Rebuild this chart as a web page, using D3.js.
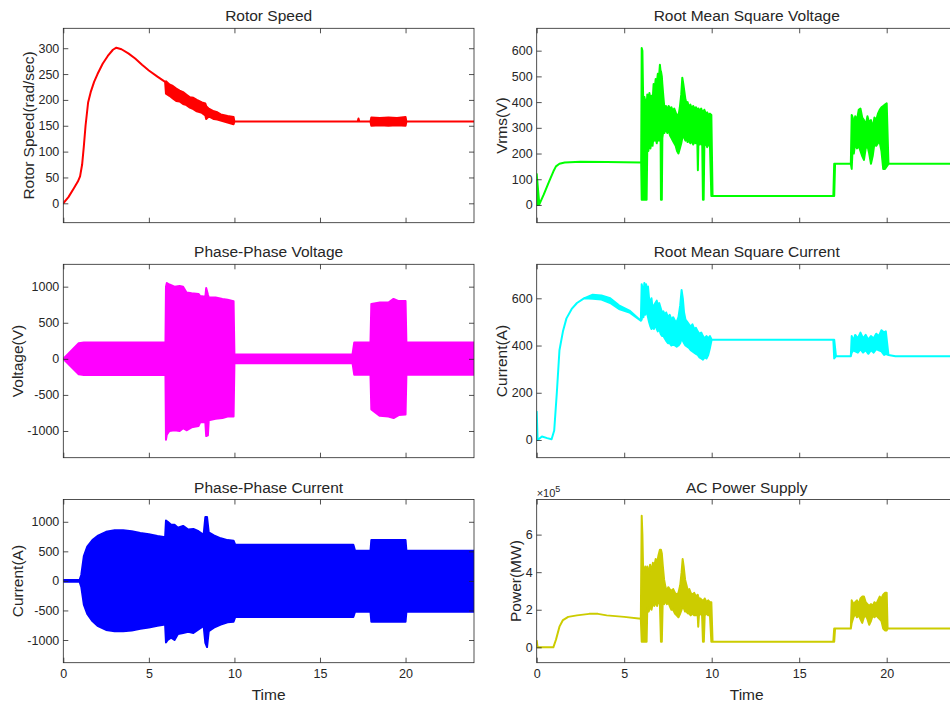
<!DOCTYPE html>
<html><head><meta charset="utf-8">
<script src="https://cdn.jsdelivr.net/npm/d3@7"></script>
<style>
body{margin:0;background:#fff}
svg{display:block}
text{font-family:"Liberation Sans",Arial,Helvetica,sans-serif;fill:#262626}
</style>
</head><body>
<svg id="c" width="950" height="704"></svg>
<script>
// ---------------- data (rows: [time, low, high]; high omitted = single line value) ----------------
const timeTicks = [0, 5, 10, 15, 20];

const rotorTicks = [0, 50, 100, 150, 200, 250, 300];
const rotorSpeed = [
  [0,0],[0.3,12],[0.6,28],[0.85,42],[0.98,52],[1.1,75],[1.2,110],[1.3,150],[1.45,195],[1.6,215],
  [1.8,235],[2.0,250],[2.3,270],[2.6,285],[2.9,297],[3.1,301],[3.4,298],[3.8,290],[4.2,280],
  [4.6,268],[5.0,257],[5.5,245],[5.95,235],
  [6.0,212,236],[6.2,208,230],[6.4,203,227],[6.6,198,222],[6.8,197,218],[7.0,192,215],[7.2,190,210],
  [7.4,185,205],[7.6,182,204],[7.8,178,200],[8.1,175,195],[8.3,170,193],[8.35,163,188],[8.5,168,183],
  [8.8,163,178],[9.0,162,176],[9.2,160,172],[9.6,156,169],[9.95,153,167],[10.0,158],
  [17.2,158],[17.25,158,164],[17.3,158],[17.95,158],[18.0,150,166],[18.5,151,165],[19.0,150,166],
  [19.5,151,165],[20.0,150,167],[20.05,158],[24,158]
];

const vrmsTicks = [0, 100, 200, 300, 400, 500, 600];
const vrms = [
  [0,0,120],[0.15,2],[0.4,40],[0.7,90],[0.95,130],[1.1,150],[1.3,160],[1.6,165],[2.5,168],[4,167],[5.97,165],
  [6.0,20,610],[6.04,20,600],[6.08,20,430],[6.12,20,380],[6.16,20,420],[6.2,20,360],[6.25,20,410],
  [6.28,20,380],[6.32,230,430],[6.38,210,400],[6.44,240,435],[6.5,220,410],[6.56,250,425],[6.62,230,400],
  [6.68,270,470],[6.74,250,450],[6.8,260,490],[6.86,240,470],[6.92,270,510],[6.98,250,490],[7.04,280,545],
  [7.08,260,520],[7.1,20,520],[7.15,20,500],[7.18,260,470],[7.24,290,420],[7.3,280,375],[7.38,300,385],
  [7.46,280,370],[7.54,290,385],[7.62,270,375],[7.7,260,380],[7.78,250,365],[7.86,240,375],[7.94,230,360],
  [8.02,210,350],[8.1,200,345],[8.18,220,380],[8.26,240,430],[8.32,260,495],[8.38,270,470],[8.44,260,440],
  [8.5,250,410],[8.56,260,395],[8.62,245,400],[8.7,250,380],[8.78,240,390],[8.86,250,375],[8.94,235,385],
  [9.02,245,375],[9.1,240,380],[9.18,240,370],[9.21,135,370],[9.24,240,375],[9.32,235,365],[9.4,245,375],
  [9.46,230,360],[9.5,20,365],[9.54,20,360],[9.58,230,370],[9.66,240,355],[9.74,225,360],[9.82,235,350],
  [9.9,230,355],[9.98,35,350],[10.05,35],
  [16.95,35],[17.0,35,160],[17.05,160],[17.95,160],
  [18.0,140,350],[18.06,230,340],[18.12,200,300],[18.2,240,345],[18.3,220,330],[18.4,230,370],
  [18.5,210,375],[18.6,190,340],[18.7,175,330],[18.8,220,310],[18.9,230,345],[19.0,200,320],
  [19.1,160,330],[19.2,190,300],[19.3,240,340],[19.4,230,330],[19.5,240,355],[19.6,245,370],
  [19.7,210,380],[19.8,140,385],[19.9,140,390],[20.0,150,395],[20.1,160],[24,160]
];

const vppTicks = [-1000, -500, 0, 500, 1000];
const vpp = [
  [0,0,0],[0.9,-215,215],[1.2,-225,225],[5.97,-225,225],
  [6.0,-1120,1000],[6.05,-1050,1050],[6.2,-1000,1030],[6.5,-990,1000],[6.8,-1000,1010],[7.0,-960,1000],
  [7.2,-990,920],[7.5,-950,910],[7.9,-930,900],[8.0,-880,870],[8.3,-880,860],[8.35,-1070,980],
  [8.45,-1060,890],[8.5,-850,850],[8.9,-830,850],[9.3,-820,830],[9.6,-800,820],[9.95,-800,800],
  [10.0,-60,60],[16.9,-60,60],[17.0,-220,225],[17.95,-220,225],
  [18.0,-700,760],[18.5,-790,780],[19.0,-800,780],[19.3,-820,830],[19.6,-780,800],[20.0,-770,800],
  [20.05,-220,225],[24,-220,225]
];

const irmsTicks = [0, 200, 400, 600];
const irms = [
  [0,0,120],[0.05,0],[0.3,15],[0.6,8],[0.85,3],[1.0,40],[1.15,200],[1.3,380],[1.5,460],[1.7,515],
  [2.0,555],[2.3,580],[2.7,600],[3.2,598,615],[3.7,595,612],[4.2,580,600],[4.7,555,570],[5.3,540,548],
  [5.95,505],
  [6.0,510,660],[6.05,540,640],[6.1,520,610],[6.15,560,665],[6.2,530,630],[6.25,550,660],[6.3,540,620],
  [6.36,520,650],[6.42,500,600],[6.5,480,580],[6.56,470,600],[6.62,480,560],[6.7,470,570],[6.78,490,580],
  [6.86,470,590],[6.92,460,570],[7.0,470,580],[7.08,450,560],[7.16,440,540],[7.24,440,545],[7.32,430,530],
  [7.4,420,540],[7.5,410,520],[7.6,410,530],[7.7,400,510],[7.8,405,520],[7.9,400,505],[8.0,395,500],
  [8.1,400,520],[8.2,410,570],[8.28,430,635],[8.35,420,600],[8.42,410,540],[8.5,400,510],[8.6,395,500],
  [8.7,390,490],[8.8,380,480],[8.9,375,490],[9.0,370,470],[9.1,365,475],[9.2,360,460],[9.3,350,450],
  [9.4,345,455],[9.5,340,440],[9.6,350,430],[9.7,345,440],[9.8,360,430],[9.9,390,440],[10.0,425],
  [16.95,425],[17.0,345,425],[17.1,355],[17.95,355],
  [18.0,370,440],[18.1,380,420],[18.2,375,445],[18.35,370,430],[18.5,385,455],[18.65,370,430],
  [18.8,380,445],[18.95,365,425],[19.1,380,440],[19.25,370,430],[19.4,385,450],[19.55,380,440],
  [19.7,375,465],[19.85,360,455],[19.95,365,460],[20.1,360],[20.5,355],[24,355]
];

const ippTicks = [-1000, -500, 0, 500, 1000];
const ipp = [
  [0,-15,15],[0.95,-15,15],[1.05,-100,100],[1.2,-400,420],[1.4,-560,580],[1.7,-680,690],[2.0,-760,760],
  [2.5,-830,830],[3.0,-850,855],[3.5,-850,855],[4.0,-840,840],[4.5,-810,810],[5.0,-790,790],
  [5.5,-760,760],[5.95,-740,740],
  [6.0,-1040,1020],[6.1,-1000,1000],[6.3,-960,950],[6.5,-1000,950],[6.7,-900,900],[7.0,-880,930],
  [7.3,-860,870],[7.6,-880,880],[7.9,-820,840],[8.2,-760,780],[8.3,-1050,1080],[8.4,-1120,1080],
  [8.5,-850,820],[8.8,-790,770],[9.2,-740,720],[9.6,-700,690],[9.95,-690,680],
  [10.05,-610,610],[16.95,-610,610],[17.05,-520,510],[17.95,-520,510],
  [18.0,-690,690],[20.0,-690,690],[20.05,-520,510],[24,-520,510]
];

const powerTicks = [0, 2, 4, 6];
const power = [
  [0,0,0.35],[0.05,0],[0.95,0],[1.1,0.4],[1.3,1.1],[1.5,1.45],[1.8,1.62],[2.3,1.7],[3.0,1.78],
  [3.5,1.78],[4.0,1.7],[5.0,1.62],[5.95,1.52],
  [6.0,0.3,7.0],[6.04,0.3,6.0],[6.08,0.3,4.2],[6.14,0.3,3.9],[6.2,0.3,4.3],[6.28,0.3,3.8],[6.32,2.1,4.3],
  [6.4,1.9,3.9],[6.48,2.2,4.4],[6.56,2.0,4.0],[6.64,2.4,4.5],[6.72,2.2,4.3],[6.8,2.4,4.7],[6.88,2.2,4.5],
  [6.96,2.5,4.9],[7.04,2.3,5.2],[7.1,0.3,5.2],[7.15,0.3,5.0],[7.2,2.4,4.4],[7.28,2.3,3.6],[7.36,2.5,3.2],
  [7.44,2.3,3.0],[7.52,2.4,3.2],[7.6,2.2,3.1],[7.7,2.0,3.0],[7.8,2.0,3.1],[7.9,1.8,2.9],[8.0,1.7,2.8],
  [8.1,1.6,2.9],[8.2,1.8,3.3],[8.28,2.0,4.0],[8.34,2.2,4.7],[8.4,2.1,4.3],[8.48,1.9,3.6],[8.56,1.9,3.3],
  [8.64,1.8,3.0],[8.72,1.8,3.1],[8.8,1.7,2.9],[8.9,1.8,2.8],[9.0,1.7,2.9],[9.1,1.7,2.7],[9.2,1.7,2.8],
  [9.23,1.1,2.7],[9.27,1.7,2.6],[9.35,1.8,2.6],[9.45,1.7,2.5],[9.5,0.3,2.5],[9.55,0.3,2.5],[9.6,1.7,2.6],
  [9.7,1.8,2.4],[9.8,1.7,2.5],[9.9,1.7,2.4],[9.98,0.3,2.4],[10.05,0.3],
  [16.95,0.3],[17.0,0.3,1.0],[17.05,1.0],[17.95,1.0],
  [18.0,1.3,2.5],[18.1,1.6,2.3],[18.2,1.8,2.4],[18.3,1.6,2.5],[18.4,1.7,2.3],[18.5,1.5,2.6],[18.6,1.3,2.7],
  [18.7,1.6,2.7],[18.8,1.7,2.4],[18.9,1.5,2.3],[19.0,1.2,2.2],[19.1,1.4,2.3],[19.2,1.7,2.2],[19.3,1.6,2.4],
  [19.4,1.7,2.3],[19.5,1.6,2.5],[19.6,1.5,2.7],[19.7,1.4,2.6],[19.8,1.0,2.8],[19.9,0.9,2.9],[20.0,0.9,2.9],
  [20.05,1.0],[24,1.0]
];

// ---------------- layout ----------------
const svg = d3.select('#c');
const cols = [[63.3, 474], [536.7, 956.7]];
const rowsY = [[28.3, 222.7], [264.3, 457.7], [499.5, 662.7]];

const panels = [
  {c:0,r:0,data:rotorSpeed,ticks:rotorTicks,yDom:[-37.5,338.5],color:'#ff0000',title:'Rotor Speed',ylabel:'Rotor Speed(rad/sec)'},
  {c:1,r:0,data:vrms,ticks:vrmsTicks,yDom:[-69,687],color:'#00ff00',title:'Root Mean Square Voltage',ylabel:'Vrms(V)'},
  {c:0,r:1,data:vpp,ticks:vppTicks,yDom:[-1370,1310],color:'#ff00ff',title:'Phase-Phase Voltage',ylabel:'Voltage(V)'},
  {c:1,r:1,data:irms,ticks:irmsTicks,yDom:[-75,744],color:'#00ffff',title:'Root Mean Square Current',ylabel:'Current(A)'},
  {c:0,r:2,data:ipp,ticks:ippTicks,yDom:[-1384,1377],color:'#0000ff',title:'Phase-Phase Current',ylabel:'Current(A)'},
  {c:1,r:2,data:power,ticks:powerTicks,yDom:[-0.82,7.87],color:'#cccc00',title:'AC Power Supply',ylabel:'Power(MW)',exp:true}
];

const axisColor = '#262626';

panels.forEach((p, i) => {
  const [x0, x1] = cols[p.c];
  const [y0, y1] = rowsY[p.r];
  const x = d3.scaleLinear().domain([0, 24]).range([x0, x1]);
  const y = d3.scaleLinear().domain(p.yDom).range([y1, y0]);
  const g = svg.append('g');

  const clipId = 'clip' + i;
  svg.append('clipPath').attr('id', clipId).append('rect')
    .attr('x', x0).attr('y', y0).attr('width', x1 - x0).attr('height', y1 - y0);

  const rows = p.data.map(r => ({t: r[0], lo: r[1], hi: r.length > 2 ? r[2] : r[1]}));
  const area = d3.area().x(d => x(d.t)).y0(d => y(d.lo)).y1(d => y(d.hi));
  g.append('path').datum(rows).attr('d', area)
    .attr('fill', p.color).attr('stroke', p.color).attr('stroke-width', 2)
    .attr('stroke-linejoin', 'round').attr('clip-path', `url(#${clipId})`);

  // axes (inward ticks, box on)
  const bottom = d3.axisBottom(x).tickValues(timeTicks).tickSizeInner(-5).tickSizeOuter(0).tickPadding(6)
    .tickFormat(p.r === 2 ? d3.format('d') : () => '');
  const top = d3.axisTop(x).tickValues(timeTicks).tickSizeInner(-5).tickSizeOuter(0).tickFormat(() => '');
  const left = d3.axisLeft(y).tickValues(p.ticks).tickSizeInner(-5).tickSizeOuter(0).tickPadding(4)
    .tickFormat(d => String(d));
  const right = d3.axisRight(y).tickValues(p.ticks).tickSizeInner(-5).tickSizeOuter(0).tickFormat(() => '');

  const gb = g.append('g').attr('transform', `translate(0,${y1})`).call(bottom);
  const gt = g.append('g').attr('transform', `translate(0,${y0})`).call(top);
  const gl = g.append('g').attr('transform', `translate(${x0},0)`).call(left);
  const gr = g.append('g').attr('transform', `translate(${x1},0)`).call(right);
  [gb, gt, gl, gr].forEach(a => {
    a.select('.domain').remove();
    a.selectAll('line').attr('stroke', axisColor).attr('stroke-width', 0.8);
    a.selectAll('text').attr('fill', axisColor).style('font-size', '12.5px')
      .style('font-family', '"Liberation Sans",Arial,sans-serif');
  });

  g.append('rect').attr('x', x0).attr('y', y0).attr('width', x1 - x0).attr('height', y1 - y0)
    .attr('fill', 'none').attr('stroke', axisColor).attr('stroke-width', 0.8);

  // title
  g.append('text').attr('x', (x0 + x1) / 2).attr('y', y0 - 7).attr('text-anchor', 'middle')
    .style('font-size', '15.5px').text(p.title);

  // y label placed outside the widest tick label
  let maxW = 0;
  gl.selectAll('text').each(function() { maxW = Math.max(maxW, this.getBBox().width); });
  const ylx = x0 - 4 - maxW - 10;
  g.append('text').attr('transform', `translate(${ylx},${(y0 + y1) / 2}) rotate(-90)`)
    .attr('text-anchor', 'middle').attr('dy', '0.35em').style('font-size', '15.5px').text(p.ylabel);

  if (p.r === 2) {
    g.append('text').attr('x', (x0 + x1) / 2).attr('y', 700).attr('text-anchor', 'middle')
      .style('font-size', '15.5px').text('Time');
  }
  if (p.exp) {
    const t = g.append('text').attr('x', x0).attr('y', y0 - 3).style('font-size', '11px');
    t.append('tspan').text('×10');
    t.append('tspan').attr('dy', '-5').style('font-size', '9px').text('5');
  }
});
</script>
</body></html>
